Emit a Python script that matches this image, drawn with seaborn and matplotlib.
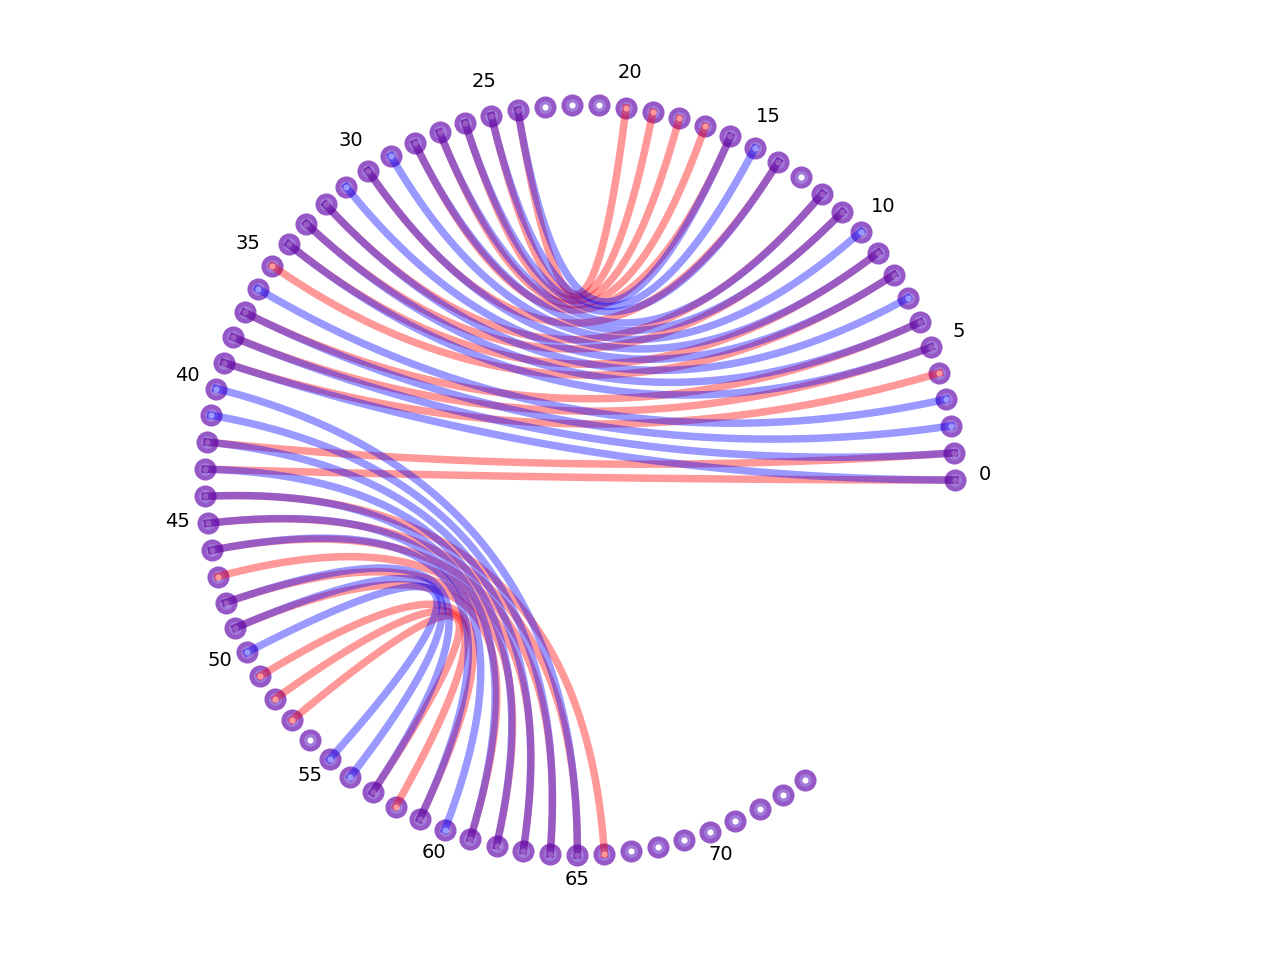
"""
Circular arc diagram comparing two base-pair structures (red vs blue).
"""

import numpy as np
import pandas as pd
import matplotlib
matplotlib.use("Agg")
import matplotlib.pyplot as plt
import seaborn as sns

# number of positions on the circle
n_positions = 75

# pairs in the first structure (red)
red_pairs = [
    (0, 43), (1, 42), (4, 39), (5, 38), (6, 37), (8, 35), (9, 34), (11, 33),
    (12, 32), (14, 30), (16, 28), (17, 27), (18, 26), (19, 25), (20, 24),
    (44, 66), (45, 65), (46, 64), (47, 63), (48, 62), (49, 61), (51, 59),
    (52, 58), (53, 57),
]

# pairs in the second structure (blue)
blue_pairs = [
    (0, 39), (1, 38), (2, 37), (3, 36), (5, 34), (6, 33), (7, 32), (8, 31),
    (9, 30), (10, 29), (11, 28), (12, 27), (14, 26), (15, 25), (16, 24),
    (40, 65), (41, 64), (42, 63), (43, 62), (44, 61), (45, 60), (46, 59),
    (48, 57), (49, 56), (50, 55),
]

label_every = 5


def node_positions(n):
    """Place the positions counter-clockwise on a unit circle."""
    step = 2 * np.pi / 86.8
    ang = np.arange(n) * step
    return pd.DataFrame({"x": np.cos(ang), "y": np.sin(ang), "ang": ang})


def bezier(p0, p2, ctrl=(0.0, 0.0), num=80):
    """Quadratic bezier between two nodes, pulled toward the circle centre."""
    t = np.linspace(0, 1, num)[:, None]
    p0, p2, ctrl = np.array(p0), np.array(p2), np.array(ctrl)
    pts = (1 - t) ** 2 * p0 + 2 * (1 - t) * t * ctrl + t ** 2 * p2
    return pts[:, 0], pts[:, 1]


def main():
    sns.set_theme(style="white")
    plt.rcParams["font.family"] = ["DejaVu Sans"]

    fig = plt.figure(figsize=(12.8, 9.6), dpi=100)
    ax = fig.add_axes([0, 0, 1, 1])

    nodes = node_positions(n_positions)

    # node rings
    sns.scatterplot(data=nodes, x="x", y="y", ax=ax, s=12.6 ** 2,
                    color="#a27adb", edgecolor="#9558c6", linewidth=3.3,
                    zorder=1, legend=False)
    # white centres
    sns.scatterplot(data=nodes, x="x", y="y", ax=ax, s=4.4 ** 2,
                    color="white", linewidth=0, zorder=2, legend=False)

    # arcs: red first, blue on top so overlaps come out purple
    for pairs, col in [(red_pairs, "red"), (blue_pairs, "blue")]:
        for i, j in pairs:
            bx, by = bezier(nodes.loc[i, ["x", "y"]], nodes.loc[j, ["x", "y"]])
            ax.plot(bx, by, color=col, alpha=0.4, lw=5.4,
                    solid_capstyle="projecting", zorder=3)

    # index labels
    for i in range(0, n_positions, label_every):
        a = nodes.loc[i, "ang"]
        ax.text(1.08 * np.cos(a), 1.08 * np.sin(a), str(i), fontsize=14,
                ha="center", va="baseline", color="black")

    # circle centre at (580, 480) px, radius 375 px
    scale = 375.0
    ax.set_xlim(-580 / scale, (1280 - 580) / scale)
    ax.set_ylim(-(960 - 480) / scale, 480 / scale)
    ax.axis("off")

    fig.savefig("out.png", dpi=100)
    plt.close(fig)


if __name__ == "__main__":
    main()
